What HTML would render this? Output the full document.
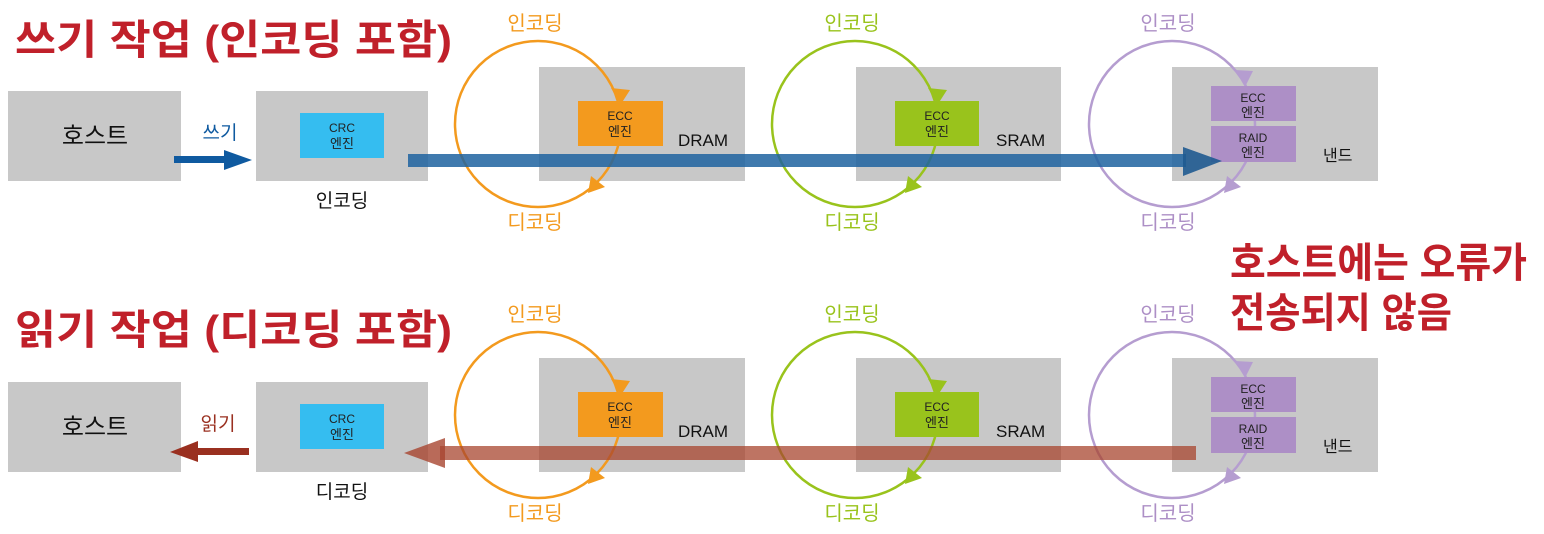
<!DOCTYPE html>
<html><head><meta charset="utf-8"><style>
html,body{margin:0;padding:0;background:#fff;}
svg{display:block;}
text{font-family:"Liberation Sans","Noto Sans CJK KR",sans-serif;}
</style></head><body>
<svg width="1544" height="534" viewBox="0 0 1544 534" xmlns="http://www.w3.org/2000/svg">
<defs>
<g id="common">
  <!-- boxes -->
  <rect x="8" y="91" width="173" height="90" fill="#c8c8c8"/>
  <rect x="256" y="91" width="172" height="90" fill="#c8c8c8"/>
  <rect x="300" y="113" width="84" height="45" fill="#35bdf0"/>
  <text x="342" y="132" font-size="12" text-anchor="middle" fill="#222">CRC</text>
  <text x="342" y="148" font-size="13" text-anchor="middle" fill="#222">엔진</text>
  <text x="95" y="144" font-size="24" text-anchor="middle" fill="#111">호스트</text>
  <rect x="539" y="67" width="206" height="114" fill="#c8c8c8"/>
  <rect x="856" y="67" width="205" height="114" fill="#c8c8c8"/>
  <rect x="1172" y="67" width="206" height="114" fill="#c8c8c8"/>
  <text x="678" y="146" font-size="17" fill="#111">DRAM</text>
  <text x="996" y="146" font-size="17" fill="#111">SRAM</text>
  <text x="1323" y="161" font-size="16" fill="#111">낸드</text>
  <!-- circles -->
  <circle cx="538" cy="124" r="83" fill="none" stroke="#f39a1e" stroke-width="2.5"/>
  <circle cx="855" cy="124" r="83" fill="none" stroke="#99c31c" stroke-width="2.5"/>
  <circle cx="1172" cy="124" r="83" fill="none" stroke="#b59dd0" stroke-width="2.5"/>
  <polygon points="621,104 611,88 630,90" fill="#f39a1e"/>
  <polygon points="588,193 591,176 605,187" fill="#f39a1e"/>
  <polygon points="938,104 928,88 947,90" fill="#99c31c"/>
  <polygon points="905,193 908,176 922,187" fill="#99c31c"/>
  <polygon points="1246,85 1235,70 1253,71" fill="#b59dd0"/>
  <polygon points="1224,193 1227,176 1241,187" fill="#b59dd0"/>
  <!-- engines -->
  <rect x="578" y="101" width="85" height="45" fill="#f39a1e"/>
  <text x="620" y="120" font-size="12" text-anchor="middle" fill="#222">ECC</text>
  <text x="620" y="136" font-size="13" text-anchor="middle" fill="#222">엔진</text>
  <rect x="895" y="101" width="84" height="45" fill="#99c31c"/>
  <text x="937" y="120" font-size="12" text-anchor="middle" fill="#222">ECC</text>
  <text x="937" y="136" font-size="13" text-anchor="middle" fill="#222">엔진</text>
  <rect x="1211" y="86" width="85" height="35" fill="#ad8fc6"/>
  <text x="1253" y="102" font-size="12" text-anchor="middle" fill="#222">ECC</text>
  <text x="1253" y="117" font-size="13" text-anchor="middle" fill="#222">엔진</text>
  <rect x="1211" y="126" width="85" height="36" fill="#ad8fc6"/>
  <text x="1253" y="142" font-size="12" text-anchor="middle" fill="#222">RAID</text>
  <text x="1253" y="157" font-size="13" text-anchor="middle" fill="#222">엔진</text>
  <!-- encode/decode labels -->
  <text x="535" y="30" font-size="20" text-anchor="middle" fill="#f39a1e">인코딩</text>
  <text x="535" y="229" font-size="20" text-anchor="middle" fill="#f39a1e">디코딩</text>
  <text x="852" y="30" font-size="20" text-anchor="middle" fill="#99c31c">인코딩</text>
  <text x="852" y="229" font-size="20" text-anchor="middle" fill="#99c31c">디코딩</text>
  <text x="1168" y="30" font-size="20" text-anchor="middle" fill="#ad8fc6">인코딩</text>
  <text x="1168" y="229" font-size="20" text-anchor="middle" fill="#ad8fc6">디코딩</text>
</g>
</defs>

<!-- Row 1 -->
<text x="15" y="54" font-size="41" font-weight="bold" fill="#c0202a" textLength="437" lengthAdjust="spacingAndGlyphs">쓰기 작업 (인코딩 포함)</text>
<use href="#common"/>
<text x="342" y="207" font-size="19" text-anchor="middle" fill="#111">인코딩</text>
<text x="220" y="139" font-size="19" text-anchor="middle" fill="#0f5aa0">쓰기</text>
<rect x="174" y="156" width="52" height="7" fill="#0f5aa0"/>
<polygon points="224,150 252,160 224,170" fill="#0f5aa0"/>
<rect x="408" y="154" width="778" height="13" fill="#1f63a0" opacity="0.85"/>
<polygon points="1183,147 1222,161 1183,176" fill="#1f5a90" opacity="0.9"/>

<!-- Red note -->
<text x="1230" y="277" font-size="41" font-weight="bold" fill="#c0202a" textLength="297" lengthAdjust="spacingAndGlyphs">호스트에는 오류가</text>
<text x="1230" y="327" font-size="41" font-weight="bold" fill="#c0202a" textLength="222" lengthAdjust="spacingAndGlyphs">전송되지 않음</text>

<!-- Row 2 -->
<text x="15" y="344" font-size="41" font-weight="bold" fill="#c0202a" textLength="437" lengthAdjust="spacingAndGlyphs">읽기 작업 (디코딩 포함)</text>
<g transform="translate(0,291)">
<use href="#common"/>
<text x="342" y="207" font-size="19" text-anchor="middle" fill="#111">디코딩</text>
<text x="218" y="139" font-size="19" text-anchor="middle" fill="#9a3020">읽기</text>
<rect x="196" y="157" width="53" height="7" fill="#9a3020"/>
<polygon points="198,150 170,161 198,171" fill="#9a3020"/>
<rect x="440" y="155" width="756" height="14" fill="#a8452f" opacity="0.75"/>
<polygon points="445,147 404,162 445,177" fill="#a8452f" opacity="0.8"/>
</g>
</svg>
</body></html>
